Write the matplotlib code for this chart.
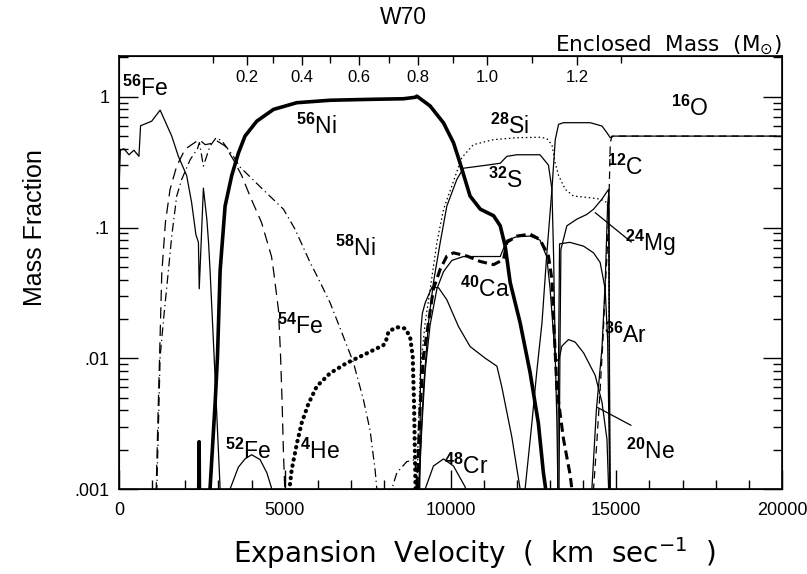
import matplotlib
matplotlib.use('Agg')
import matplotlib.pyplot as plt
import numpy as np

plt.rcParams['font.family'] = ['Liberation Sans', 'DejaVu Sans']
plt.rcParams['mathtext.fontset'] = 'custom'
plt.rcParams['mathtext.rm'] = 'Liberation Sans'
plt.rcParams['mathtext.bf'] = 'Liberation Sans:bold'
plt.rcParams['mathtext.default'] = 'regular'

# --- data (velocity km/s, mass fraction) ---
v_fe56 = [0, 40, 150, 300, 450, 600, 650, 985, 1240, 1590, 1790, 2040, 2190, 2320, 2395,
          2420, 2545, 2650, 2700, 2746, 2900, 3050, 3100]
fe56 = [0.20, 0.39, 0.40, 0.36, 0.39, 0.35, 0.60, 0.65, 0.79, 0.50, 0.35, 0.25, 0.155, 0.088, 0.077,
        0.034, 0.20, 0.115, 0.077, 0.047, 0.007, 0.001, 0.0005]

v_ni56 = [2395, 2415, 2435, 2700, 2745, 2900, 2970, 3050, 3200, 3400, 3600, 3800, 4155, 4660,
          5360, 6370, 7575, 8580, 8930, 8985, 9385, 9790, 10090, 10290, 10590, 10900, 11300,
          11500, 11650, 11800, 12100, 12400, 12650, 12800, 12860, 12950]
ni56 = [0.0005, 0.0023, 0.0005, 0.0005, 0.001, 0.0046, 0.0103, 0.047, 0.146, 0.25, 0.37, 0.50,
        0.65, 0.80, 0.90, 0.94, 0.955, 0.965, 0.99, 1.01, 0.85, 0.63, 0.445, 0.31, 0.174, 0.138,
        0.123, 0.103, 0.072, 0.038, 0.0187, 0.0078, 0.0032, 0.00135, 0.00105, 0.0006]

v_fe54 = [1080, 1120, 1180, 1230, 1290, 1400, 1540, 1740, 1990, 2190, 2420, 2600, 2800, 2950,
          3200, 3450, 3700, 3950, 4300, 4600, 4660, 4810, 4870, 4920, 4960, 5000, 5050]
fe54 = [0.0005, 0.001, 0.004, 0.012, 0.045, 0.11, 0.196, 0.295, 0.396, 0.43, 0.47, 0.43, 0.44,
        0.46, 0.42, 0.33, 0.25, 0.174, 0.109, 0.06, 0.047, 0.0234, 0.011, 0.0046, 0.0019, 0.001,
        0.0005]

v_ni58 = [1100, 1140, 1200, 1240, 1340, 1490, 1590, 1740, 1890, 2145, 2365, 2425, 2545, 2745,
          2930, 3100, 3450, 3650, 4300, 4960, 5310, 5765, 5985, 6370, 6770, 7070, 7375, 7575,
          7725, 7777, 7900, 8100, 8230, 8380, 8680, 8930, 8990, 9020]
ni58 = [0.0005, 0.001, 0.004, 0.0103, 0.0195, 0.047, 0.086, 0.174, 0.233, 0.33, 0.40, 0.445,
        0.295, 0.42, 0.486, 0.46, 0.35, 0.29, 0.20, 0.138, 0.097, 0.054, 0.042, 0.0265, 0.0146,
        0.0093, 0.0048, 0.0028, 0.0014, 0.001, 0.0004, 0.0004, 0.001, 0.00133, 0.00162, 0.00168,
        0.0009, 0.0004]

v_fe52 = [3300, 3350, 3600, 3800, 4000, 4255, 4460, 4610, 4650]
fe52 = [0.0009, 0.001, 0.00147, 0.0017, 0.00183, 0.00168, 0.00133, 0.001, 0.0009]

v_he4 = [5100, 5140, 5210, 5360, 5510, 5715, 5965, 6370, 6870, 7375, 7975, 8050, 8130, 8380,
         8630, 8780, 8860, 8900, 8945, 8980]
he4 = [0.0007, 0.001, 0.00141, 0.0022, 0.0032, 0.0045, 0.0061, 0.0077, 0.0092, 0.0106, 0.0126,
       0.0135, 0.016, 0.0173, 0.0169, 0.0146, 0.0103, 0.0045, 0.001, 0.0007]

v_si28 = [8970, 8985, 9035, 9085, 9235, 9385, 9590, 9790, 10040, 10340, 10690, 11300, 12000,
          12700, 12900, 13060, 13160, 13260, 13460, 13710, 14115, 14515, 14720, 14770, 14800, 14830]
si28 = [0.0005, 0.001, 0.0032, 0.0078, 0.0187, 0.0336, 0.077, 0.138, 0.208, 0.342, 0.43, 0.47,
        0.486, 0.49, 0.48, 0.43, 0.31, 0.25, 0.196, 0.174, 0.17, 0.165, 0.155, 0.13, 0.002, 0.0005]

v_s32 = [9000, 9035, 9185, 9335, 9485, 9690, 9890, 10190, 10390, 11100, 11500, 11700, 12000,
         12700, 12955, 13060, 13110, 13160, 13210, 13240]
s32 = [0.0005, 0.001, 0.0058, 0.0187, 0.038, 0.077, 0.146, 0.233, 0.284, 0.30, 0.31, 0.35, 0.36,
       0.36, 0.30, 0.196, 0.0605, 0.0104, 0.0032, 0.001]

v_ca40 = [8960, 8985, 9085, 9185, 9335, 9485, 9690, 9890, 10090, 10495, 10895, 11300, 11600,
          11700, 12000, 12400, 12700, 12955, 13060, 13110, 13210, 13410, 13610, 13660, 13720]
ca40 = [0.0005, 0.001, 0.0043, 0.0104, 0.0187, 0.034, 0.048, 0.0605, 0.064, 0.0605, 0.055,
        0.052, 0.057, 0.077, 0.086, 0.089, 0.081, 0.0605, 0.04, 0.02, 0.0058, 0.0024, 0.00128,
        0.001, 0.0007]

v_ar36 = [9020, 9050, 9135, 9235, 9385, 9590, 9790, 10040, 10390, 11000, 11500, 11700, 12000,
          12400, 12700, 12900, 13000, 13110, 13160, 13260, 13360, 13560, 13760, 14015, 14365,
          14570, 14720, 14770, 14800]
ar36 = [0.0005, 0.001, 0.003, 0.008, 0.018, 0.034, 0.046, 0.056, 0.06, 0.06, 0.06, 0.08, 0.085,
        0.086, 0.08, 0.06, 0.035, 0.015, 0.0101, 0.0095, 0.0124, 0.0139, 0.0133, 0.011, 0.0074,
        0.0046, 0.0024, 0.001, 0.0007]

v_bump = [9070, 9090, 9105, 9150, 9235, 9440, 9640, 9890, 10240, 10590, 11050, 11400, 11550,
          11850, 12100, 12150]
bump = [0.0008, 0.005, 0.0164, 0.022, 0.0265, 0.035, 0.0346, 0.028, 0.0175, 0.0123, 0.010,
        0.0087, 0.006, 0.0025, 0.001, 0.0007]

v_cr48 = [9200, 9235, 9485, 9790, 10090, 10440, 10500]
cr48 = [0.0007, 0.001, 0.0015, 0.0017, 0.0015, 0.00104, 0.0009]

v_o16 = [12200, 12250, 12455, 12600, 12760, 12900, 13060, 13160, 13260, 13410, 14215, 14570,
         14720, 14820, 14920, 20000]
o16 = [0.0007, 0.001, 0.0032, 0.0078, 0.0187, 0.0605, 0.196, 0.47, 0.615, 0.633, 0.633, 0.597,
       0.53, 0.486, 0.50, 0.50]

v_mg24 = [13270, 13300, 13330, 13510, 13815, 14115, 14315, 14570, 14770, 14800, 14830]
mg24 = [0.0007, 0.01, 0.068, 0.103, 0.116, 0.126, 0.138, 0.165, 0.196, 0.003, 0.0005]

v_ne20 = [13230, 13260, 13290, 13600, 14015, 14315, 14515, 14665, 14740, 14790, 14810]
ne20 = [0.0007, 0.01, 0.075, 0.077, 0.072, 0.064, 0.054, 0.034, 0.014, 0.002, 0.0005]

v_c12 = [14250, 14315, 14420, 14515, 14600, 14665, 14720, 14770, 14820, 14870, 20000]
c12 = [0.0005, 0.001, 0.0024, 0.0058, 0.014, 0.034, 0.06, 0.123, 0.445, 0.50, 0.50]

v_steep = [14200, 14265, 14400, 14570, 14670, 14740, 14780, 14810]
steep = [0.0005, 0.001, 0.004, 0.012, 0.04, 0.15, 0.19, 0.0005]

# enclosed mass scale (top axis): mass -> velocity
mass_ticks = [0.1, 0.2, 0.3, 0.4, 0.5, 0.6, 0.7, 0.8, 0.9, 1.0, 1.1, 1.2, 1.3]
mass_vel = [2840, 3850, 4650, 5520, 6370, 7240, 8150, 9020, 10080, 11110, 12460, 13820, 15150]

fig = plt.figure(figsize=(8.07, 5.74), dpi=100)
ax = fig.add_axes([0.1475, 0.148, 0.8215, 0.7545])

k = 'black'
ax.plot(v_fe56, fe56, color=k, lw=0.9)
ax.plot(v_ni56, ni56, color=k, lw=2.6)
ax.plot(v_fe54, fe54, color=k, lw=0.9, ls=(0, (9, 5)))
ax.plot(v_ni58, ni58, color=k, lw=0.9, ls=(0, (7, 3, 1, 3)))
ax.plot(v_fe52, fe52, color=k, lw=0.9)
ax.plot(v_he4, he4, color=k, lw=3.0, ls=(0, (0.1, 1.4)), dash_capstyle='round')
ax.plot(v_si28, si28, color=k, lw=0.9, ls=(0, (1.2, 2.2)))
ax.plot(v_s32, s32, color=k, lw=0.9)
ax.plot(v_ca40, ca40, color=k, lw=2.2, ls=(0, (3, 1.6)))
ax.plot(v_ar36, ar36, color=k, lw=0.9)
ax.plot(v_bump, bump, color=k, lw=0.9)
ax.plot(v_cr48, cr48, color=k, lw=0.9)
ax.plot(v_o16, o16, color=k, lw=0.9)
ax.plot(v_mg24, mg24, color=k, lw=0.9)
ax.plot(v_ne20, ne20, color=k, lw=0.9)
ax.plot(v_c12, c12, color=k, lw=0.9, ls=(0, (6, 4)))
ax.plot(v_steep, steep, color=k, lw=0.9)

ax.set_yscale('log')
ax.set_xlim(0, 20000)
ax.set_ylim(0.001, 2.05)
ax.set_xticks([0, 5000, 10000, 15000, 20000])
ax.set_xticklabels(['0', '5000', '10000', '15000', '20000'])
ax.set_xticks(np.arange(0, 20001, 1000), minor=True)
ax.set_yticks([0.001, 0.01, 0.1, 1])
ax.set_yticklabels(['.001', '.01', '.1', '1'])
ax.tick_params(which='both', direction='in', top=False, right=True, labelsize=13,
               width=1.0)
ax.tick_params(which='major', length=13.5, pad=7)
ax.tick_params(axis='x', which='major', pad=9)
ax.tick_params(which='minor', length=6.5)
ax.yaxis.set_minor_formatter(matplotlib.ticker.NullFormatter())
for s in ax.spines.values():
    s.set_linewidth(1.2)

ax2 = ax.twiny()
ax2.set_xlim(ax.get_xlim())
major_idx = [1, 3, 5, 7, 9, 11]
ax2.set_xticks([mass_vel[i] for i in major_idx])
ax2.set_xticklabels(['%.1f' % mass_ticks[i] for i in major_idx])
ax2.set_xticks([mass_vel[i] for i in range(len(mass_vel)) if i not in major_idx], minor=True)
ax2.tick_params(which='both', direction='in', labelsize=12)
ax2.tick_params(which='major', length=6.5, pad=-21, width=1.0)
ax2.tick_params(which='minor', length=5, width=1.0)

labels = [
    ('56', 'Fe', 785, 1.17), ('56', 'Ni', 5945, 0.59), ('58', 'Ni', 7120, 0.0697),
    ('54', 'Fe', 5460, 0.0177), ('52', 'Fe', 3890, 0.00195), ('4', 'He', 6065, 0.00195),
    ('28', 'Si', 11800, 0.59), ('32', 'S', 11650, 0.23), ('40', 'Ca', 11050, 0.0338),
    ('48', 'Cr', 10470, 0.00148), ('36', 'Ar', 15270, 0.0151), ('20', 'Ne', 16025, 0.00195),
    ('24', 'Mg', 16025, 0.076), ('12', 'C', 15270, 0.29), ('16', 'O', 17230, 0.82),
]
for a, sym, x, y in labels:
    ax.text(x, y, r'$^{\mathbf{%s}}$%s' % (a, sym), fontsize=16.5, ha='center', va='center')

ax.annotate('', xy=(14300, 0.134), xytext=(15520, 0.075),
            arrowprops=dict(arrowstyle='-', lw=0.9, color=k))
ax.annotate('', xy=(14365, 0.0043), xytext=(15520, 0.0030),
            arrowprops=dict(arrowstyle='-', lw=0.9, color=k))

fig.text(0.5, 1 - 18 / 574, 'W70', ha='center', va='center', fontsize=16.5)
fig.text(35 / 807, 1 - 228 / 574, 'Mass Fraction', rotation=90, ha='center', va='center',
         fontsize=18)
fig.text(474 / 807, 1 - 553 / 574, r'Expansion  Velocity  (  km  sec$^{-1}$  )',
         ha='center', va='center', fontsize=20, family='DejaVu Sans')
fig.text(782 / 807, 1 - 45 / 574, r'Enclosed  Mass  (M$_{\odot}$)', ha='right', va='center',
         fontsize=15.5, family='DejaVu Sans')

fig.savefig('out.png', dpi=100)
